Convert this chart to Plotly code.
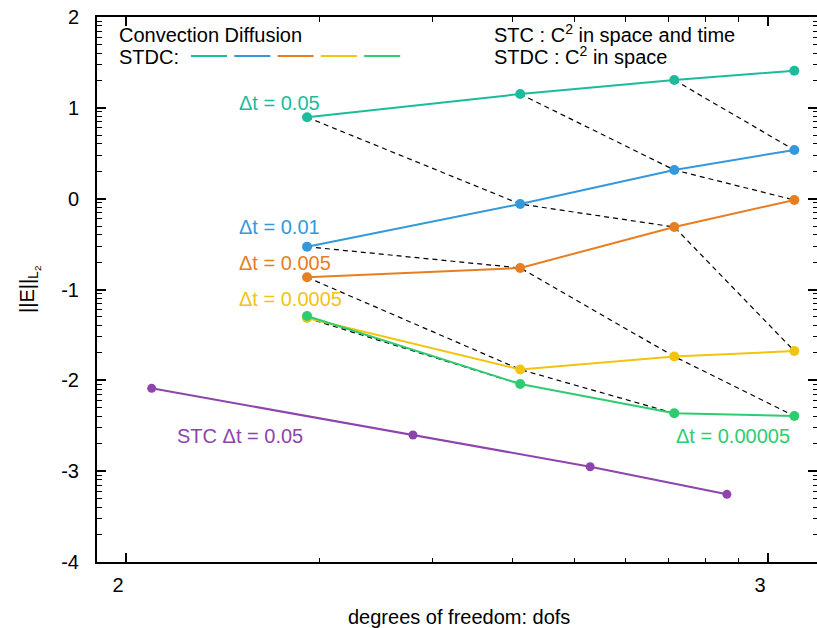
import math
import plotly.graph_objects as go

# ---------------- data (log10 values, as plotted) ----------------
dofs_exp = [2.282, 2.614, 2.854, 3.041]          # log10(dofs) for STDC runs
stdc_labels = ["Δt = 0.05", "Δt = 0.01", "Δt = 0.005", "Δt = 0.0005", "Δt = 0.00005"]
err_dt_005 = [0.896, 1.152, 1.306, 1.409]
err_dt_001 = [-0.529, -0.059, 0.316, 0.536]
err_dt_0005 = [-0.866, -0.763, -0.312, -0.015]
err_dt_00005 = [-1.314, -1.881, -1.738, -1.677]
err_dt_000005 = [-1.292, -2.041, -2.363, -2.393]

stc_dofs_exp = [2.040, 2.447, 2.723, 2.936]
stc_err = [-2.088, -2.602, -2.951, -3.255]
stc_label = "STC Δt = 0.05"

x_tick_vals = [2, 3]
x_tick_text = ["2", "3"]
y_tick_vals = [-4, -3, -2, -1, 0, 1, 2]
y_tick_text = ["-4", "-3", "-2", "-1", "0", "1", "2"]

# ---------------- style ----------------
colors = ["#1abc9c", "#3498db", "#e67e22", "#f1c40f", "#2ecc71"]
stc_color = "#8e44ad"
FONT = "Liberation Sans, Arial, sans-serif"
FS = 20

W, H = 817, 628
L, R, T, B = 97, 0, 17, 66


def px_x(p):
    return (p - L) / (W - L - R)


def px_y(p):
    return (H - B - p) / (H - T - B)


series = [err_dt_005, err_dt_001, err_dt_0005, err_dt_00005, err_dt_000005]

fig = go.Figure()

# dashed diagonals: series s point i -> series s+1 point i+1
starts = [(0, i) for i in range(len(dofs_exp))] + [(s, 0) for s in range(1, len(series))]
for s0, i0 in starts:
    xs, ys = [], []
    j = 0
    while s0 + j < len(series) and i0 + j < len(dofs_exp):
        xs.append(dofs_exp[i0 + j])
        ys.append(series[s0 + j][i0 + j])
        j += 1
    if len(xs) > 1:
        fig.add_trace(go.Scatter(x=xs, y=ys, mode="lines",
                                 line=dict(color="black", width=1.2, dash="5px,4px"),
                                 hoverinfo="skip", showlegend=False))

for ys, c in zip(series, colors):
    fig.add_trace(go.Scatter(x=dofs_exp, y=ys, mode="lines+markers",
                             line=dict(color=c, width=2),
                             marker=dict(color=c, size=10),
                             showlegend=False))

fig.add_trace(go.Scatter(x=stc_dofs_exp, y=stc_err, mode="lines+markers",
                         line=dict(color=stc_color, width=2),
                         marker=dict(color=stc_color, size=9),
                         showlegend=False))

minor_x = [math.log10(k * 10 ** n) for n in (1, 2) for k in range(2, 10)]
minor_y = [math.log10(k) + n for n in range(-4, 2) for k in range(2, 10)]

fig.update_xaxes(range=[2 - 29 / 642, 3 + 49 / 642], automargin=False,
                 tickmode="array", tickvals=x_tick_vals, ticktext=x_tick_text,
                 ticks="inside", ticklen=9, tickwidth=1.5, tickcolor="black",
                 showline=True, linewidth=2, linecolor="black", mirror="allticks",
                 showgrid=False, zeroline=False,
                 ticklabelstandoff=4, ticklabelshift=-8,
                 minor=dict(tickmode="array", tickvals=minor_x, ticks="inside",
                            ticklen=4.5, tickwidth=1, tickcolor="black", showgrid=False),
                 tickfont=dict(size=FS, family=FONT, color="black"))

fig.update_yaxes(range=[-4, 2], automargin=False,
                 tickmode="array", tickvals=y_tick_vals, ticktext=y_tick_text,
                 ticks="inside", ticklen=9, tickwidth=1.5, tickcolor="black",
                 showline=True, linewidth=2, linecolor="black", mirror="ticks",
                 showgrid=False, zeroline=False,
                 ticklabelstandoff=12,
                 minor=dict(tickmode="array", tickvals=minor_y, ticks="inside",
                            ticklen=4.5, tickwidth=1, tickcolor="black", showgrid=False),
                 tickfont=dict(size=FS, family=FONT, color="black"))

annotations = []
# axis titles
annotations.append(dict(text="||E||<sub>L<sub>2</sub></sub>", x=px_x(29), y=px_y(290),
                        xref="paper", yref="paper", textangle=-90, showarrow=False,
                        xanchor="center", yanchor="middle",
                        font=dict(size=FS, family=FONT, color="black")))
annotations.append(dict(text="degrees of freedom: dofs", x=px_x(459), y=px_y(617),
                        xref="paper", yref="paper", showarrow=False,
                        xanchor="center", yanchor="middle",
                        font=dict(size=FS, family=FONT, color="black")))

# key text
annotations.append(dict(text="Convection Diffusion", x=px_x(117), y=px_y(35),
                        xref="paper", yref="paper", showarrow=False,
                        xanchor="left", yanchor="middle",
                        font=dict(size=FS, family=FONT, color="black")))
annotations.append(dict(text="STDC:", x=px_x(117), y=px_y(57),
                        xref="paper", yref="paper", showarrow=False,
                        xanchor="left", yanchor="middle",
                        font=dict(size=FS, family=FONT, color="black")))
annotations.append(dict(text="STC : C<sup>2</sup> in space and time", x=px_x(492), y=px_y(34),
                        xref="paper", yref="paper", showarrow=False,
                        xanchor="left", yanchor="middle",
                        font=dict(size=FS, family=FONT, color="black")))
annotations.append(dict(text="STDC : C<sup>2</sup> in space", x=px_x(492), y=px_y(56),
                        xref="paper", yref="paper", showarrow=False,
                        xanchor="left", yanchor="middle",
                        font=dict(size=FS, family=FONT, color="black")))

# series labels
label_pos = [(237, 103), (237, 227), (237, 263), (237, 299)]
for (lx, ly), txt, c in zip(label_pos, stdc_labels[:4], colors[:4]):
    annotations.append(dict(text=txt, x=px_x(lx), y=px_y(ly), xref="paper", yref="paper",
                            showarrow=False, xanchor="left", yanchor="middle",
                            font=dict(size=FS, family=FONT, color=c)))
annotations.append(dict(text=stdc_labels[4], x=px_x(792), y=px_y(436), xref="paper", yref="paper",
                        showarrow=False, xanchor="right", yanchor="middle",
                        font=dict(size=FS, family=FONT, color=colors[4])))
annotations.append(dict(text=stc_label, x=px_x(175), y=px_y(436), xref="paper", yref="paper",
                        showarrow=False, xanchor="left", yanchor="middle",
                        font=dict(size=FS, family=FONT, color=stc_color)))

# key line samples
shapes = []
for k, c in enumerate(colors):
    x0 = 191 + k * 43.3
    shapes.append(dict(type="line", xref="paper", yref="paper",
                       x0=px_x(x0), x1=px_x(x0 + 36), y0=px_y(56), y1=px_y(56),
                       line=dict(color=c, width=2)))

fig.update_layout(width=W, height=H, margin=dict(l=L, r=R, t=T, b=B, autoexpand=False),
                  paper_bgcolor="white", plot_bgcolor="white",
                  annotations=annotations, shapes=shapes,
                  font=dict(family=FONT, size=FS, color="black"))

fig.write_html("out.html")
